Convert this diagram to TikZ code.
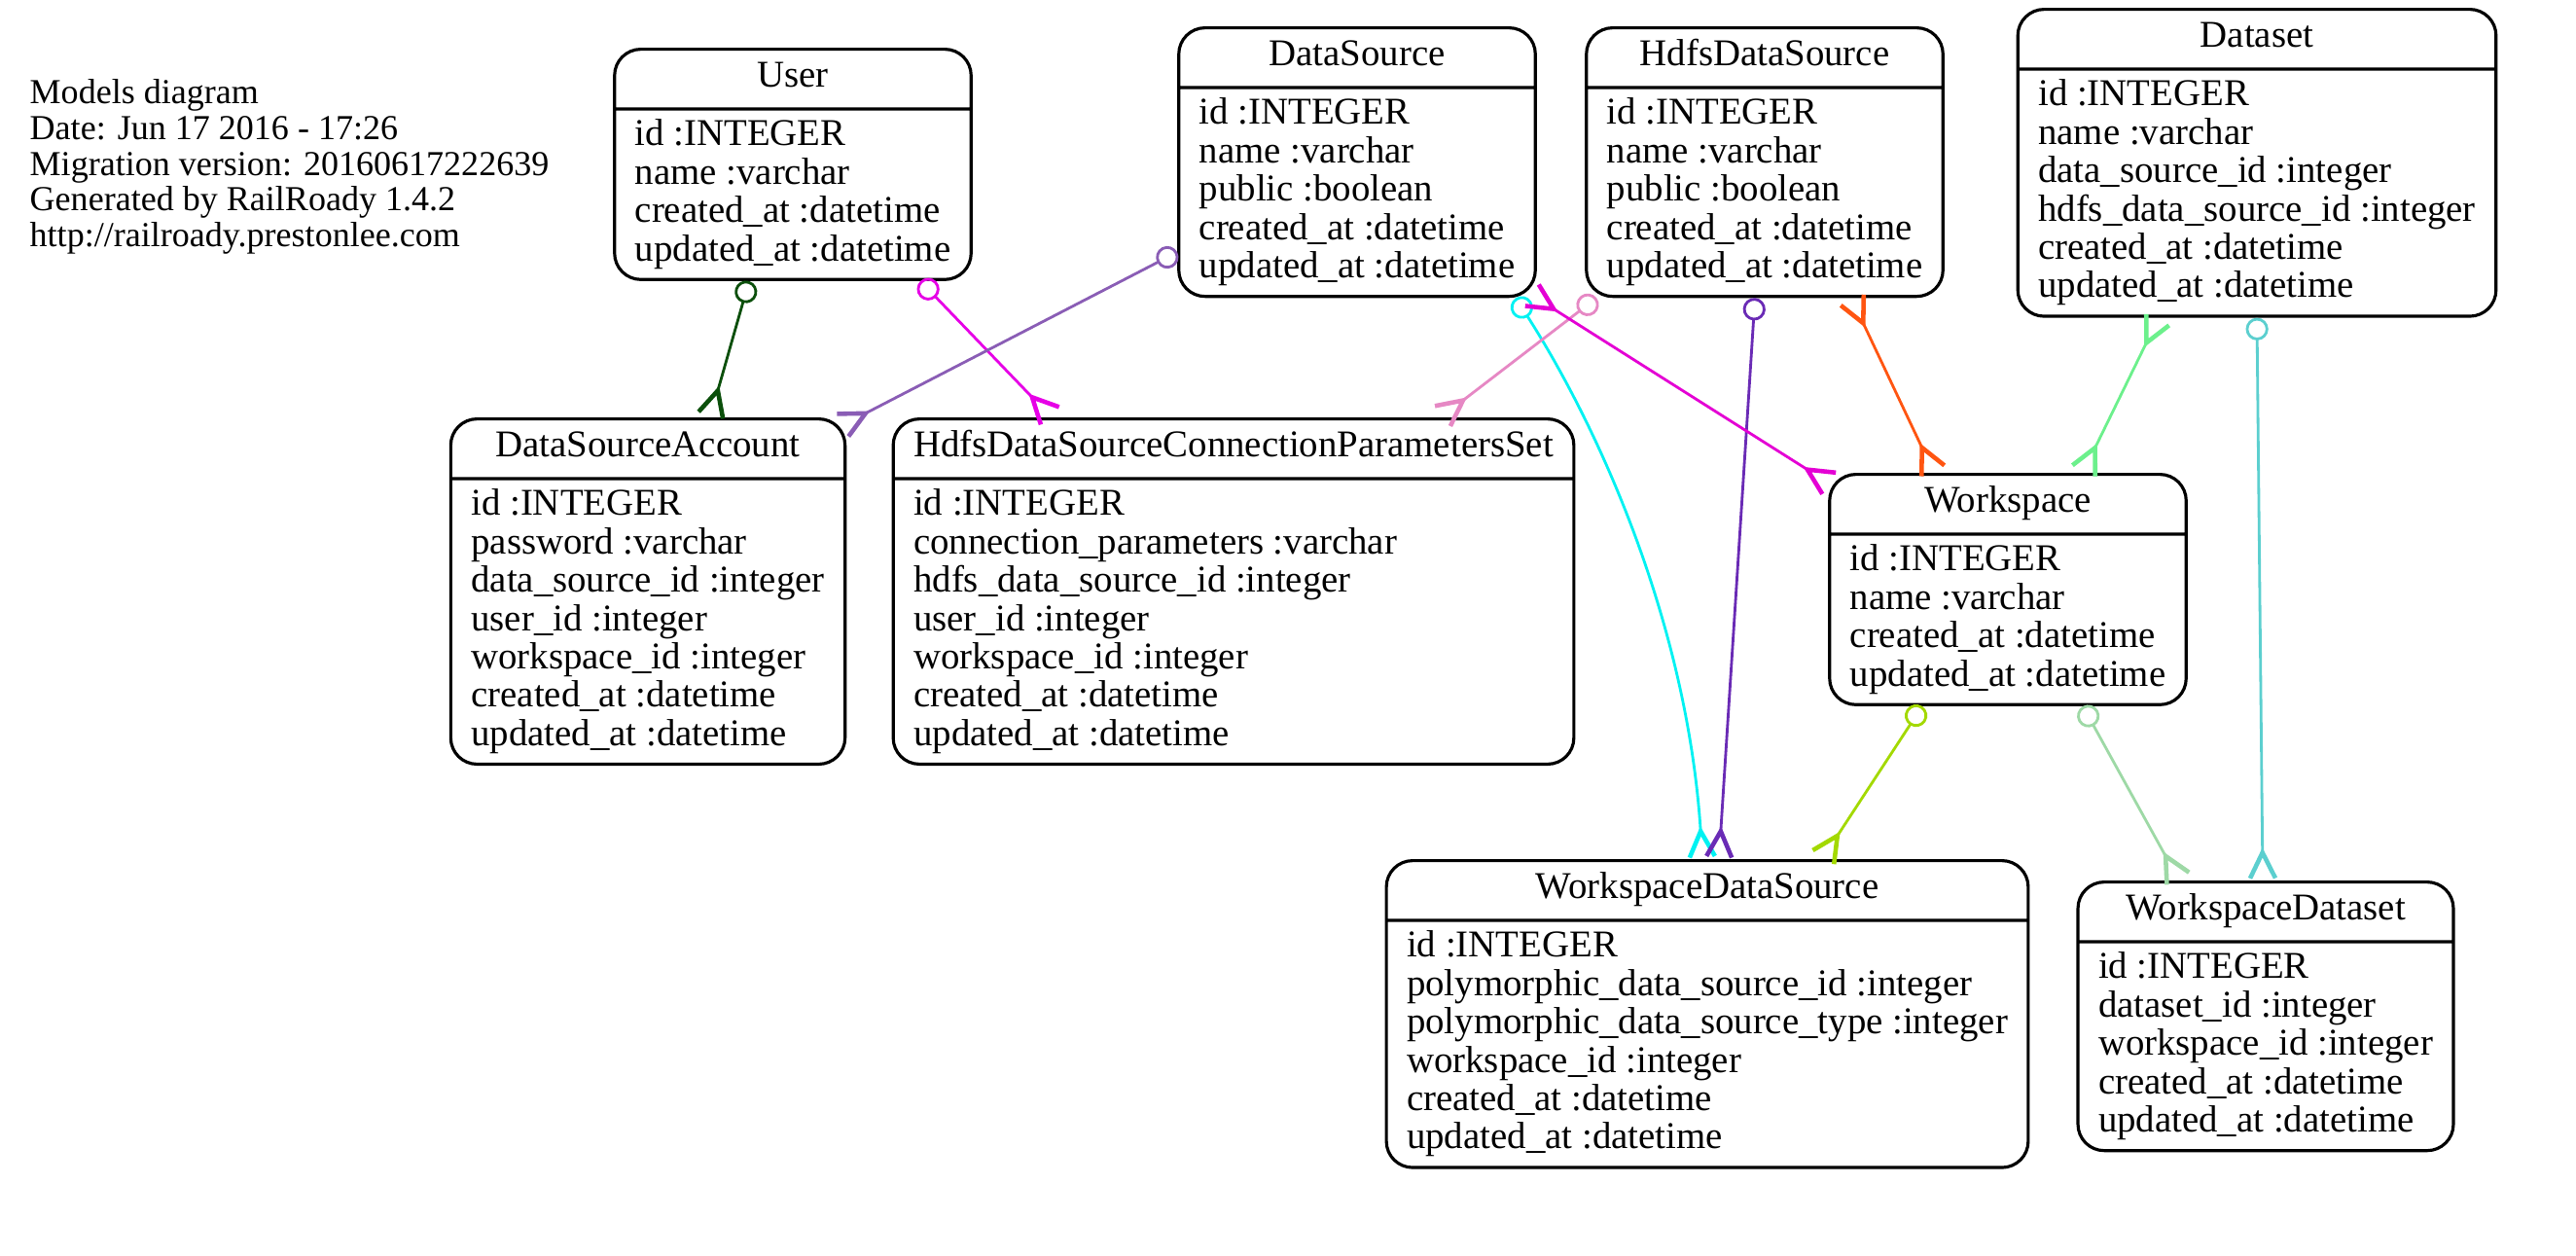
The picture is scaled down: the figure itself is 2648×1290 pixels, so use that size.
\documentclass[tikz,border=0pt]{standalone}
\usepackage{fontspec}
\setmainfont{Liberation Serif}
\usepackage{xcolor}
\usepackage{tikz}
\usetikzlibrary{shapes.multipart,arrows.meta}
\definecolor{usracct}{HTML}{0B4F0B}
\definecolor{usrparams}{HTML}{E600E6}
\definecolor{dsacct}{HTML}{8A5DB5}
\definecolor{dswsds}{HTML}{00F2F2}
\definecolor{hdfswsds}{HTML}{6A2BB5}
\definecolor{hdfsprm}{HTML}{E688C4}
\definecolor{dsws}{HTML}{E400D4}
\definecolor{hdfsws}{HTML}{FF5511}
\definecolor{setws}{HTML}{6CF08C}
\definecolor{setwsset}{HTML}{5CCFCF}
\definecolor{wswsds}{HTML}{A3D900}
\definecolor{wswsset}{HTML}{9ED9A6}

\begin{document}
\begin{tikzpicture}[
        x=0.01cm, y=-0.01cm,
        every node/.style={
            font=\fontsize{11.04}{11.2}\selectfont
        },
        entity/.style={
            rectangle split,
            rectangle split parts=2,
            rectangle split part align={center,left},
            draw,
            line width=0.9pt,
            rounded corners=0.27cm,
            align=left,
            anchor=north,
            inner xsep=0.21cm,
            inner ysep=0.094cm,
            text height=7.84pt,
            text depth=3.36pt
        },
        rel/.style={
            line width=0.8pt
        },
        odot/.tip={Circle[open,length=6.6pt,width=6.6pt]},
        crow/.tip={Straight Barb[reversed,length=7.5pt,width=7.4pt,line width=1.3pt]}
    ]
        \useasboundingbox (0,0) rectangle (2648,1290);

        \node (info) [anchor=north west, inner sep=0pt, align=left,
            font=\fontsize{10.25}{10.45}\selectfont] at (30,81)
            {Models diagram\\Date: Jun 17 2016 - 17:26\\Migration version: 20160617222639\\Generated by RailRoady 1.4.2\\http://railroady.prestonlee.com};

        \node (user) [entity] at (815,49) {User\nodepart{two}id :INTEGER\\name :varchar\\created\_at :datetime\\updated\_at :datetime};
        \node (datasource) [entity] at (1395,27) {DataSource\nodepart{two}id :INTEGER\\name :varchar\\public :boolean\\created\_at :datetime\\updated\_at :datetime};
        \node (hdfsds) [entity] at (1814,27) {HdfsDataSource\nodepart{two}id :INTEGER\\name :varchar\\public :boolean\\created\_at :datetime\\updated\_at :datetime};
        \node (dataset) [entity] at (2320,8) {Dataset\nodepart{two}id :INTEGER\\name :varchar\\data\_source\_id :integer\\hdfs\_data\_source\_id :integer\\created\_at :datetime\\updated\_at :datetime};
        \node (dsaccount) [entity] at (666,429) {DataSourceAccount\nodepart{two}id :INTEGER\\password :varchar\\data\_source\_id :integer\\user\_id :integer\\workspace\_id :integer\\created\_at :datetime\\updated\_at :datetime};
        \node (hdfsparams) [entity] at (1268,429) {HdfsDataSourceConnectionParametersSet\nodepart{two}id :INTEGER\\connection\_parameters :varchar\\hdfs\_data\_source\_id :integer\\user\_id :integer\\workspace\_id :integer\\created\_at :datetime\\updated\_at :datetime};
        \node (workspace) [entity] at (2064,486) {Workspace\nodepart{two}id :INTEGER\\name :varchar\\created\_at :datetime\\updated\_at :datetime};
        \node (wsdatasource) [entity] at (1755,883) {WorkspaceDataSource\nodepart{two}id :INTEGER\\polymorphic\_data\_source\_id :integer\\polymorphic\_data\_source\_type :integer\\workspace\_id :integer\\created\_at :datetime\\updated\_at :datetime};
        \node (wsdataset) [entity] at (2329,905) {WorkspaceDataset\nodepart{two}id :INTEGER\\dataset\_id :integer\\workspace\_id :integer\\created\_at :datetime\\updated\_at :datetime};

        % one-to-many
        \draw[rel, usracct, odot-crow] ([xshift=-0.45cm]user.south) -- ([xshift=0.64cm]dsaccount.north);
        \draw[rel, usrparams, odot-crow] ([xshift=1.31cm]user.south) -- ([xshift=-1.87cm]hdfsparams.north);
        \draw[rel, dsacct, odot-crow] ([yshift=-0.925cm]datasource.west) -- ([xshift=-0.06cm,yshift=-0.09cm]dsaccount.north east);
        \draw[rel, dswsds, odot-crow] ([xshift=1.63cm]datasource.south) .. controls (1650,450) and (1735,650) .. ([xshift=-0.05cm]wsdatasource.north);
        \draw[rel, hdfswsds, odot-crow] ([xshift=-0.10cm]hdfsds.south) -- ([xshift=0.12cm]wsdatasource.north);
        \draw[rel, hdfsprm, odot-crow] ([xshift=0.12cm]hdfsds.south west) -- ([xshift=2.13cm]hdfsparams.north);
        \draw[rel, setwsset, odot-crow] (dataset.south) -- ([xshift=-0.03cm]wsdataset.north);
        \draw[rel, wswsds, odot-crow] ([xshift=-0.88cm]workspace.south) -- ([xshift=1.18cm]wsdatasource.north);
        \draw[rel, wswsset, odot-crow] ([xshift=0.77cm]workspace.south) -- ([xshift=-0.89cm]wsdataset.north);

        % many-to-many
        \draw[rel, dsws, crow-crow] ([xshift=-0.07cm,yshift=0.04cm]datasource.south east) -- ([xshift=0.03cm,yshift=-0.12cm]workspace.north west);
        \draw[rel, hdfsws, crow-crow] ([xshift=0.89cm]hdfsds.south) -- ([xshift=-0.76cm]workspace.north);
        \draw[rel, setws, crow-crow] ([xshift=-1.01cm]dataset.south) -- ([xshift=0.77cm]workspace.north);
\end{tikzpicture}
\end{document}
